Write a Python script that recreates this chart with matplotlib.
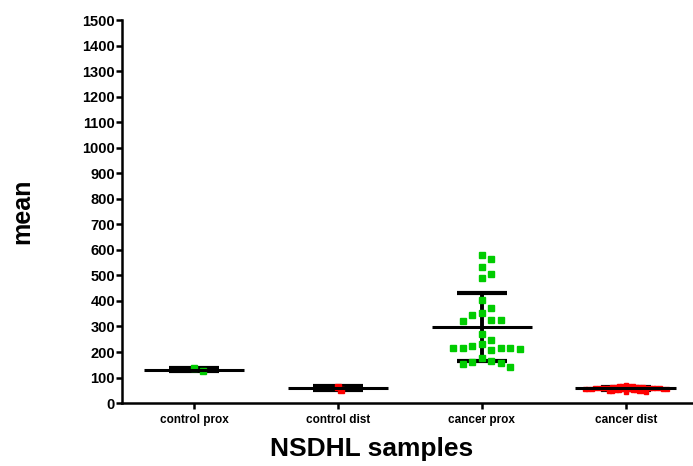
import numpy as np
import matplotlib
matplotlib.use("Agg")
import matplotlib.pyplot as plt

plt.rcParams["font.family"] = ["Liberation Sans", "DejaVu Sans"]
plt.rcParams["font.weight"] = "bold"

# NSDHL mean expression per sample, grouped by tissue site
groups = ["control prox", "control dist", "cancer prox", "cancer dist"]
colors = ["#00cc00", "#ff0000", "#00cc00", "#ff0000"]

control_prox = [137, 126]
control_dist = [63, 52]
cancer_prox = [580, 564, 533, 505, 489, 403, 372, 352, 345, 325, 321, 325,
               270, 247, 231, 215, 211, 207, 215, 215, 215, 223, 176, 157,
               161, 141, 153, 165]
cancer_dist = [70, 68, 67, 66, 65, 64, 64, 63, 62, 62, 61, 61, 60, 60, 60,
               59, 59, 58, 58, 58, 57, 57, 57, 56, 56, 55, 55, 54, 53, 52,
               51, 50, 49, 48, 47, 46, 45, 44]
values = [control_prox, control_dist, cancer_prox, cancer_dist]

marker_sizes = [4.8, 4.0, 4.8, 2.8]

W, H, DPI = 6.93, 4.66, 100
AX = [0.176, 0.135, 0.831, 0.822]
YMAX = 1500


def swarm(vals, diam, px_x, px_y):
    # place points column-wise so markers of diameter `diam` (px) don't overlap
    order = np.argsort(vals)[::-1]
    placed = []
    offs = np.zeros(len(vals))
    for i in order:
        y = vals[i] * px_y
        k = 0
        while True:
            cands = [0.0] if k == 0 else [k * diam, -k * diam]
            done = False
            for c in cands:
                if all((c - px) ** 2 + (y - py) ** 2 >= diam ** 2 * 0.95
                       for px, py in placed):
                    offs[i] = c
                    placed.append((c, y))
                    done = True
                    break
            if done:
                break
            k += 1
    return offs / px_x


fig = plt.figure(figsize=(W, H), dpi=DPI)
ax = fig.add_axes(AX)
ax.set_xlim(0.5, 4.5)
ax.set_ylim(0, YMAX)

px_x = AX[2] * W * DPI / 4.0
px_y = AX[3] * H * DPI / YMAX

for i, (vals, col, ms) in enumerate(zip(values, colors, marker_sizes)):
    x0 = i + 1
    vals = np.array(vals, dtype=float)
    m = vals.mean()
    sd = vals.std(ddof=1)
    diam = 9.5 if ms > 4 else 3.4
    xs = x0 + swarm(vals, diam, px_x, px_y)
    ax.vlines(x0, m - sd, m + sd, color="black", lw=2.8, zorder=2)
    ax.hlines([m - sd, m + sd], x0 - 0.175, x0 + 0.175, color="black",
              lw=3.0, zorder=2)
    ax.plot(xs, vals, ls="none", marker="s", ms=ms, color=col,
            mec=col, zorder=3)
    ax.hlines(m, x0 - 0.35, x0 + 0.35, color="black", lw=2.2, zorder=4)

for s in ["top", "right"]:
    ax.spines[s].set_visible(False)
for s in ["left", "bottom"]:
    ax.spines[s].set_linewidth(1.8)
    ax.spines[s].set_clip_on(False)

ax.set_yticks(np.arange(0, 1501, 100))
ax.set_xticks(range(1, 5))
ax.set_xticklabels(groups, fontsize=8.5, fontweight="bold")
ax.tick_params(axis="y", labelsize=10.5, width=1.8, length=4, pad=1)
ax.tick_params(axis="x", width=1.8, length=4, pad=4)
for lab in ax.get_yticklabels():
    lab.set_fontweight("bold")

ax.set_ylabel("mean", fontsize=18, fontweight="bold")
ax.yaxis.set_label_coords(-0.152, 0.5)
ax.set_xlabel("NSDHL samples", fontsize=19, fontweight="bold")
ax.xaxis.set_label_coords(0.434, -0.088)

fig.savefig("out.png", dpi=DPI)
